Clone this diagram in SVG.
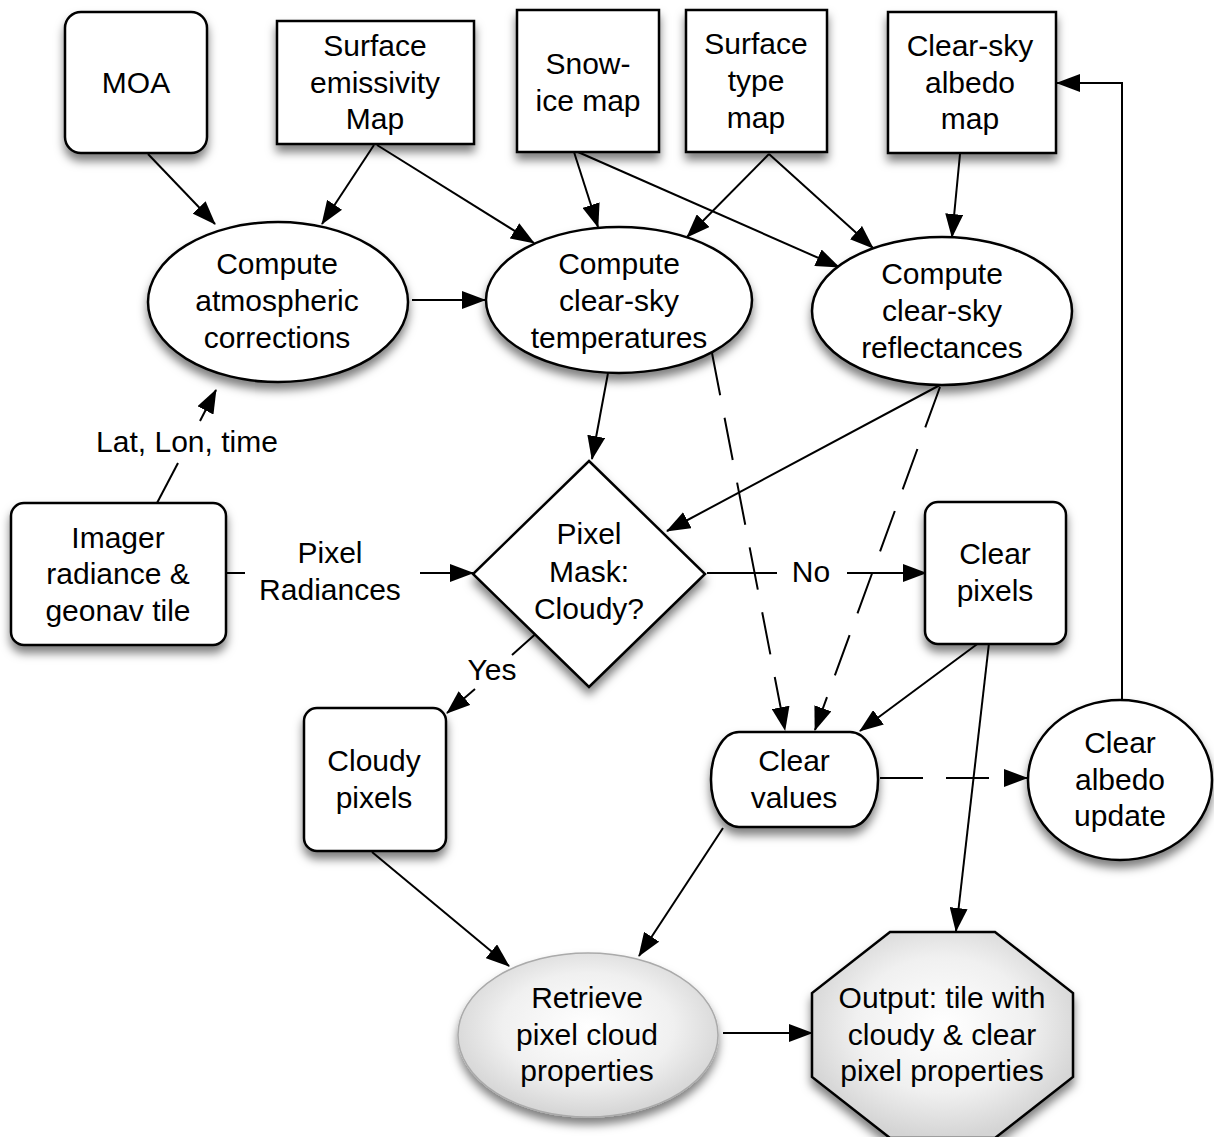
<svg xmlns="http://www.w3.org/2000/svg" width="1214" height="1137" viewBox="0 0 1214 1137">
  <style>
    .shape { fill: #fff; stroke: #000; stroke-width: 2.5; filter: url(#sh); }
    .soft { stroke: #aaa; stroke-width: 1.5; filter: url(#sh); }
    text { font-family: "Liberation Sans", Arial, Helvetica, sans-serif; font-size: 30px; fill: #000; text-anchor: middle; }
    .edge { fill: none; stroke: #000; stroke-width: 2; }
    .arrow { marker-end: url(#ah); }
    .dash { stroke-dasharray: 43 23; }
  </style>
  <defs>
    <filter id="sh" x="-25%" y="-25%" width="150%" height="160%">
      <feDropShadow dx="0" dy="7" stdDeviation="5" flood-color="#000" flood-opacity="0.5"/>
    </filter>
    <marker id="ah" markerUnits="userSpaceOnUse" markerWidth="24" markerHeight="18" refX="23" refY="9" orient="auto" viewBox="0 0 24 18">
      <path d="M0,0 L24,9 L0,18 z" fill="#000"/>
    </marker>
    <radialGradient id="grey" cx="50%" cy="45%" r="55%">
      <stop offset="0" stop-color="#ffffff"/>
      <stop offset="0.6" stop-color="#f0f0f0"/>
      <stop offset="1" stop-color="#d4d4d4"/>
    </radialGradient>
  </defs>
  <rect width="1214" height="1137" fill="#fff"/>

  <!-- connectors -->
  <g id="connectors">
    <line class="edge arrow" x1="148" y1="154" x2="215" y2="224"/>
    <line class="edge arrow" x1="374" y1="145" x2="322" y2="224"/>
    <line class="edge arrow" x1="377" y1="145" x2="534" y2="243"/>
    <line class="edge arrow" x1="574" y1="152" x2="598" y2="227"/>
    <line class="edge arrow" x1="578" y1="152" x2="839" y2="267"/>
    <line class="edge arrow" x1="769" y1="154" x2="687" y2="237"/>
    <line class="edge arrow" x1="769" y1="154" x2="873" y2="248"/>
    <line class="edge arrow" x1="960" y1="154" x2="952" y2="237"/>
    <line class="edge arrow" x1="412" y1="300" x2="485" y2="300"/>
    <!-- Lat, Lon, time -->
    <line class="edge" x1="157" y1="503" x2="178" y2="463"/>
    <line class="edge arrow" x1="200" y1="421" x2="216" y2="390"/>
    <!-- Pixel Radiances -->
    <line class="edge" x1="226" y1="573" x2="245" y2="573"/>
    <line class="edge arrow" x1="420" y1="573" x2="473" y2="573"/>
    <!-- to the mask -->
    <line class="edge arrow" x1="608" y1="373" x2="592" y2="459"/>
    <line class="edge arrow" x1="940" y1="385" x2="667" y2="531"/>
    <!-- dashed feeds into clear values -->
    <line class="edge dash arrow" x1="712" y1="353" x2="785" y2="730"/>
    <line class="edge dash arrow" x1="940" y1="387" x2="815" y2="730"/>
    <!-- No -->
    <line class="edge" x1="707" y1="573" x2="777" y2="573"/>
    <line class="edge arrow" x1="847" y1="573" x2="926" y2="573"/>
    <!-- Yes -->
    <line class="edge" x1="540" y1="630" x2="512" y2="655"/>
    <line class="edge arrow" x1="475" y1="689" x2="447" y2="713"/>
    <!-- clear pixels outputs -->
    <line class="edge arrow" x1="980" y1="642" x2="860" y2="731"/>
    <line class="edge arrow" x1="989" y1="643" x2="956" y2="931"/>
    <!-- clear values to albedo update -->
    <line class="edge dash arrow" x1="880" y1="778" x2="1027" y2="778"/>
    <!-- feedback to albedo map -->
    <polyline class="edge arrow" points="1122,700 1122,83 1057,83"/>
    <!-- into retrieval -->
    <line class="edge arrow" x1="372" y1="852" x2="509" y2="966"/>
    <line class="edge arrow" x1="723" y1="828" x2="639" y2="956"/>
    <line class="edge arrow" x1="723" y1="1033" x2="812" y2="1033"/>
  </g>

  <!-- labels on connectors -->
  <g id="edge-labels">
    <text x="187" y="452">Lat, Lon, time</text>
    <text x="330" y="563">Pixel</text>
    <text x="330" y="600">Radiances</text>
    <text x="811" y="582">No</text>
    <text x="492" y="680">Yes</text>
  </g>

  <g id="moa">
    <rect class="shape" x="65" y="12" width="142" height="141" rx="16"/>
    <text x="136" y="93">MOA</text>
  </g>
  <g id="surface-emissivity">
    <rect class="shape" x="277" y="21" width="197" height="123"/>
    <text x="375" y="56">Surface</text>
    <text x="375" y="93">emissivity</text>
    <text x="375" y="129">Map</text>
  </g>
  <g id="snow-ice">
    <rect class="shape" x="517" y="10" width="142" height="142"/>
    <text x="588" y="74">Snow-</text>
    <text x="588" y="111">ice map</text>
  </g>
  <g id="surface-type">
    <rect class="shape" x="686" y="10" width="141" height="142"/>
    <text x="756" y="54">Surface</text>
    <text x="756" y="91">type</text>
    <text x="756" y="128">map</text>
  </g>
  <g id="albedo-map">
    <rect class="shape" x="888" y="12" width="168" height="141"/>
    <text x="970" y="56">Clear-sky</text>
    <text x="970" y="93">albedo</text>
    <text x="970" y="129">map</text>
  </g>

  <g id="atm-corrections">
    <ellipse class="shape" cx="278" cy="302" rx="130" ry="80"/>
    <text x="277" y="274">Compute</text>
    <text x="277" y="311">atmospheric</text>
    <text x="277" y="348">corrections</text>
  </g>
  <g id="clear-temps">
    <ellipse class="shape" cx="619" cy="300" rx="133" ry="73"/>
    <text x="619" y="274">Compute</text>
    <text x="619" y="311">clear-sky</text>
    <text x="619" y="348">temperatures</text>
  </g>
  <g id="clear-refl">
    <ellipse class="shape" cx="942" cy="311" rx="130" ry="74"/>
    <text x="942" y="284">Compute</text>
    <text x="942" y="321">clear-sky</text>
    <text x="942" y="358">reflectances</text>
  </g>

  <g id="imager">
    <rect class="shape" x="11" y="503" width="215" height="142" rx="13"/>
    <text x="118" y="548">Imager</text>
    <text x="118" y="584">radiance &amp;</text>
    <text x="118" y="621">geonav tile</text>
  </g>
  <g id="mask">
    <polygon class="shape" points="589,461 705,574 589,687 473,574"/>
    <text x="589" y="544">Pixel</text>
    <text x="589" y="582">Mask:</text>
    <text x="589" y="619">Cloudy?</text>
  </g>
  <g id="clear-pixels">
    <rect class="shape" x="925" y="502" width="141" height="142" rx="13"/>
    <text x="995" y="564">Clear</text>
    <text x="995" y="601">pixels</text>
  </g>
  <g id="cloudy-pixels">
    <rect class="shape" x="304" y="708" width="142" height="143" rx="13"/>
    <text x="374" y="771">Cloudy</text>
    <text x="374" y="808">pixels</text>
  </g>
  <g id="clear-values">
    <rect class="shape" x="711" y="732" width="167" height="95" rx="28" ry="47"/>
    <text x="794" y="771">Clear</text>
    <text x="794" y="808">values</text>
  </g>
  <g id="albedo-update">
    <ellipse class="shape" cx="1120" cy="780" rx="92" ry="80"/>
    <text x="1120" y="753">Clear</text>
    <text x="1120" y="790">albedo</text>
    <text x="1120" y="826">update</text>
  </g>

  <g id="retrieve">
    <ellipse class="soft" cx="588" cy="1035" rx="130" ry="82" fill="url(#grey)"/>
    <text x="587" y="1008">Retrieve</text>
    <text x="587" y="1045">pixel cloud</text>
    <text x="587" y="1081">properties</text>
  </g>
  <g id="output">
    <polygon points="890,932 995,932 1073,993 1073,1077 995,1138 890,1138 812,1077 812,993" fill="url(#grey)" stroke="#000" stroke-width="2.5" filter="url(#sh)"/>
    <text x="942" y="1008">Output: tile with</text>
    <text x="942" y="1045">cloudy &amp; clear</text>
    <text x="942" y="1081">pixel properties</text>
  </g>
</svg>
